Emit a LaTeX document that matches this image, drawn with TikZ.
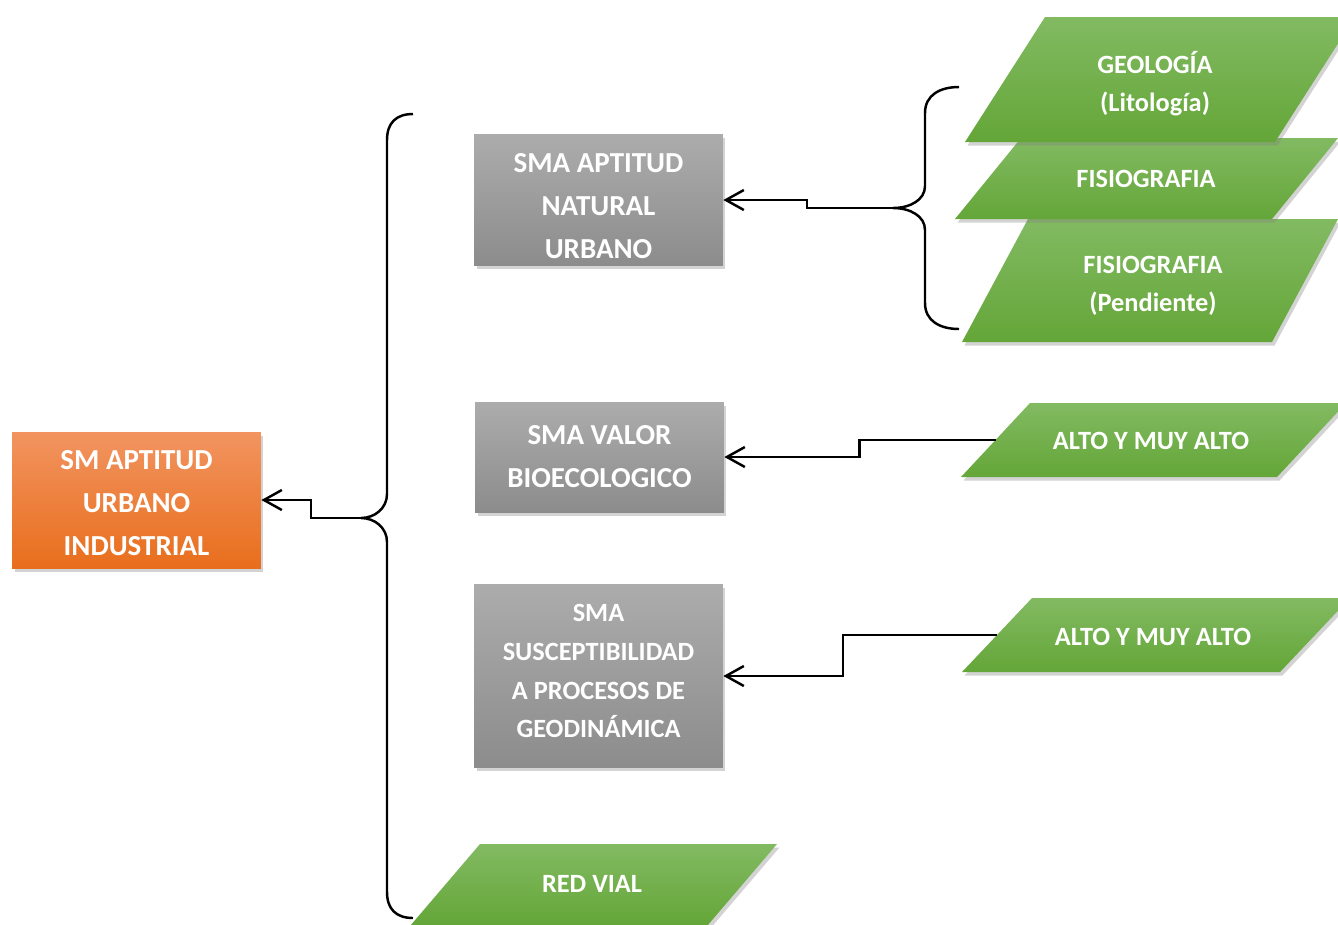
\documentclass[tikz,border=0pt]{standalone}
\usepackage{fontspec}
\setmainfont{Carlito}
\usepackage{tikz}
\usetikzlibrary{arrows.meta,positioning,shadows}

\definecolor{orangetop}{RGB}{242,148,96}
\definecolor{orangebot}{RGB}{232,110,28}
\definecolor{graytop}{RGB}{172,172,172}
\definecolor{graybot}{RGB}{140,140,140}
\definecolor{greentop}{RGB}{130,186,98}
\definecolor{greenbot}{RGB}{100,166,56}

\begin{document}
\begin{tikzpicture}
[x=0.02cm,y=-0.02cm,
 wordshadow/.style={drop shadow={shadow xshift=0.05cm,shadow yshift=-0.07cm,opacity=0.35}},
 smbox/.style={rectangle,inner sep=0pt,text=white,align=center,minimum width=4.98cm,
    font=\bfseries\fontsize{16.5}{24.5}\selectfont,wordshadow},
 orangebox/.style={smbox,top color=orangetop,bottom color=orangebot},
 graybox/.style={smbox,top color=graytop,bottom color=graybot},
 capa/.style={top color=greentop,bottom color=greenbot,wordshadow},
 capatext/.style={inner sep=0pt,text=white,align=center,font=\bfseries\fontsize{15}{21.5}\selectfont},
 conn/.style={line width=1.4pt,-{Straight Barb[length=3.6mm,width=4mm]}},
 brace/.style={line width=1.4pt}]
\clip (0,0) rectangle (1338,924);

\node[orangebox,minimum height=2.72cm] (sm) at (136.5,500) {\rule{0pt}{14.6pt}SM APTITUD\\URBANO\\INDUSTRIAL};
\node[graybox,minimum height=2.64cm] (g1) at (598.5,200) {\rule{0pt}{17.4pt}SMA APTITUD\\NATURAL\\URBANO};
\node[graybox,minimum height=2.2cm] (g2) at (599.5,457) {SMA VALOR\\BIOECOLOGICO};
\node[graybox,minimum height=3.68cm,font=\bfseries\fontsize{15}{22}\selectfont] (g3) at (598.5,676)
  {SMA\\SUSCEPTIBILIDAD\\A PROCESOS DE\\GEODINÁMICA\rule[-5.6pt]{0pt}{0pt}};

% capas de entrada
\path[capa] (962,342) -- (1028,219) -- (1338,219) -- (1272,342) -- cycle;
\node[capatext] (pend) at (1153,285.5) {FISIOGRAFIA\\(Pendiente)};
\path[capa] (955,219) -- (1021,138) -- (1338,138) -- (1272,219) -- cycle;
\node[capatext] (fisio) at (1146,179) {FISIOGRAFIA};
\path[capa] (965,142) -- (1045,17) -- (1355,17) -- (1275,142) -- cycle;
\node[capatext] (geo) at (1155,84) {GEOLOGÍA\\(Litología)};
\path[capa] (961,477) -- (1030,403) -- (1346,403) -- (1277,477) -- cycle;
\node[capatext] (alto1) at (1151,441) {ALTO Y MUY ALTO};
\path[capa] (962,672) -- (1032,598) -- (1350,598) -- (1280,672) -- cycle;
\node[capatext] (alto2) at (1153,637) {ALTO Y MUY ALTO};
\path[capa] (410,926) -- (480,844) -- (777,844) -- (707,926) -- cycle;
\node[capatext] (vial) at (592,884) {RED VIAL};

% llaves
\coordinate (bigtip) at (361,518);
\coordinate (smalltip) at (893,208);
\coordinate (alto1w) at (995.5,440);
\coordinate (alto2w) at (997,635);
\draw[brace] (413,114) .. controls (396,114) and (387,123) .. (387,140) -- (387,494)
  .. controls (387,508) and (375,518) .. (bigtip) .. controls (375,518) and (387,528) .. (387,542)
  -- (387,892) .. controls (387,909) and (396,918) .. (413,918);
\draw[brace] (959,87) .. controls (940,87) and (925,95) .. (925,113) -- (925,186)
  .. controls (925,200) and (910,208) .. (smalltip) .. controls (910,208) and (925,216) .. (925,230)
  -- (925,303) .. controls (925,321) and (940,329) .. (959,329);

\draw[conn] (bigtip) -- ++(-50,0) |- (sm.east);
\draw[conn] (smalltip) -- ++(-86,0) |- (g1.east);
\draw[conn] (alto1w) -- ++(-136,0) |- (g2.east);
\draw[conn] (alto2w) -- ++(-154,0) |- (g3.east);
\end{tikzpicture}
\end{document}
